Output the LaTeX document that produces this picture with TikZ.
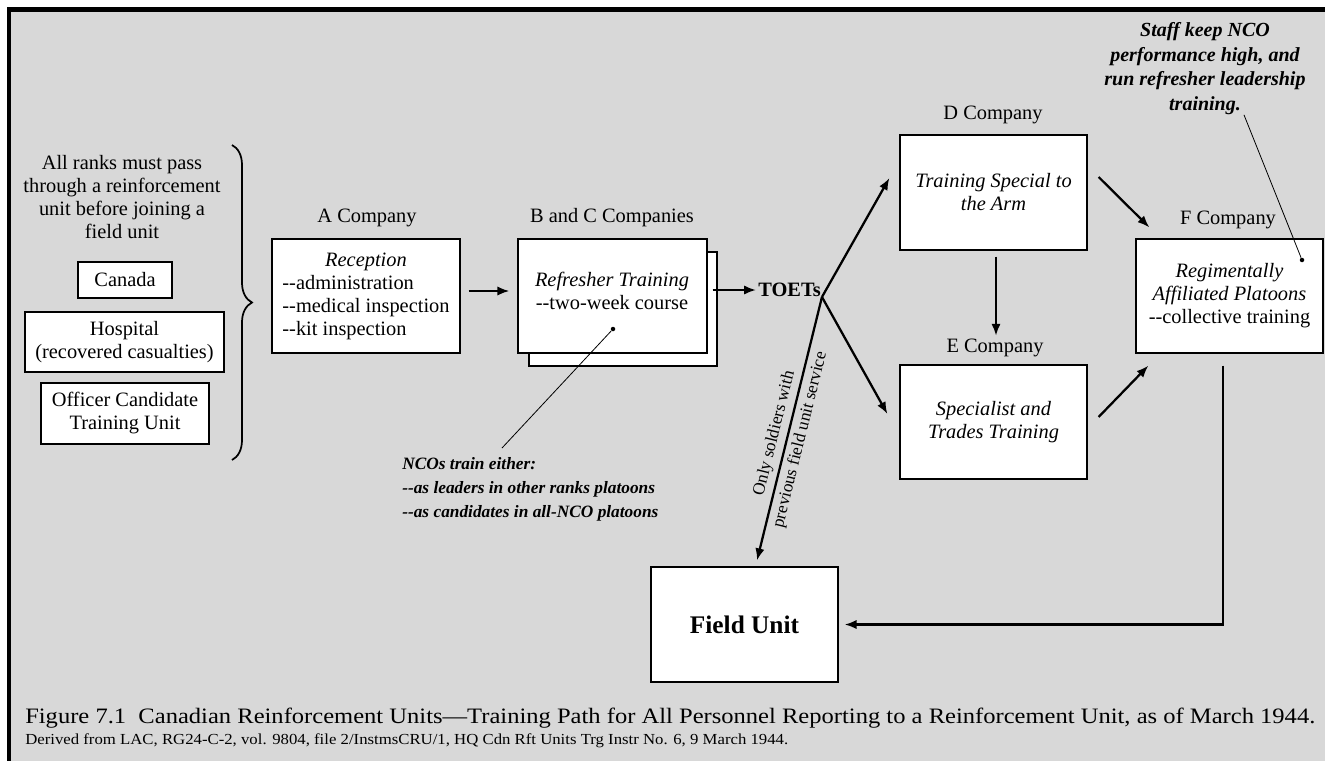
\documentclass[tikz,border=0pt]{standalone}
\usepackage{fontspec}
\setmainfont{Liberation Serif}
\usetikzlibrary{arrows.meta,calc,decorations.pathreplacing}
\definecolor{bggrey}{RGB}{216,216,216}
\def\PX{*0.75pt}
\tikzset{
  base/.style={font=\fontsize{15.3}{17.25}\selectfont},
  box/.style={draw, fill=white, line width=0.9pt, inner sep=0pt, align=center, base},
  lbl/.style={base, inner sep=0pt, align=center},
  arr/.style={line width=1.7pt, -{Latex[length=9pt,width=7pt]}},
  pointer/.style={line width=0.6pt},
  dotmark/.style={circle, fill=black, inner sep=0pt, minimum size=4.5\PX},
  note/.style={font=\fontsize{13}{18}\selectfont\bfseries\itshape, inner sep=0pt},
}
\begin{document}
\begin{tikzpicture}[x=0.75pt,y=-0.75pt]
\useasboundingbox (0,0) rectangle (1325,761);
\fill[white] (0,0) rectangle (1325,761);
\fill[bggrey] (7,7) rectangle (1325,761);
\fill[black] (7,7) rectangle (1325,12);
\fill[black] (7,7) rectangle (11,761);

% left column
\node[lbl] (intro) at (122,197) {All ranks must pass\\through a reinforcement\\unit before joining a\\field unit};
\node[box, minimum width=94\PX, minimum height=36\PX] (canada) at (125,280) {Canada};
\node[box, minimum width=199\PX, minimum height=60\PX] (hosp) at (124.5,342) {Hospital\\(recovered casualties)};
\node[box, minimum width=168\PX, minimum height=61\PX] (octu) at (125,413.5) {Officer Candidate\\Training Unit};
\coordinate (bt) at (232,145);
\coordinate (bb) at (232,460);
\draw[line width=1.3pt, decorate, decoration={brace, amplitude=15pt}] (bt) -- (bb);

% A company
\node[lbl] (Alab) at (367,218) {A Company};
\node[box, minimum width=188\PX, minimum height=114\PX] (A) at (366,296)
  {\begin{tabular}{@{}l@{}}\multicolumn{1}{@{}c@{}}{\textit{Reception}}\\-{}-administration\\-{}-medical inspection\\-{}-kit inspection\end{tabular}};

% B and C companies
\node[lbl] (Blab) at (612,218) {B and C Companies};
\node[box, minimum width=188\PX, minimum height=114\PX] (Bback) at (623,309) {};
\node[box, minimum width=189\PX, minimum height=114\PX] (B) at (612.5,296) {};
\node[lbl] (Btext) at (612,291) {\textit{Refresher Training}\\-{}-two-week course};
\node[dotmark] (bdot) at (613,329) {};

% TOETs
\node[lbl, font=\fontsize{15.3}{17.25}\selectfont\bfseries] (toets) at (789.5,290) {TOETs};
\coordinate (junc) at ($(toets.east)+(1,7)$);

% D, E, F
\node[lbl] (Dlab) at (993,115) {D Company};
\node[box, minimum width=187\PX, minimum height=115\PX] (D) at (993.5,192.5) {\textit{Training Special to}\\\textit{the Arm}};
\node[lbl] (Elab) at (995,348) {E Company};
\node[box, minimum width=187\PX, minimum height=114\PX] (E) at (993.5,422) {\textit{Specialist and}\\\textit{Trades Training}};
\node[lbl] (Flab) at (1228,220) {F Company};
\node[box, minimum width=187\PX, minimum height=114\PX] (F) at (1229.5,296) {\textit{Regimentally}\\\textit{Affiliated Platoons}\\-{}-collective training};
\node[dotmark] (fdot) at (1302,260) {};

% Field unit
\node[box, minimum width=187\PX, minimum height=115\PX, font=\fontsize{19}{22}\selectfont\bfseries] (FU) at (744.5,624.5) {Field Unit};

% notes
\node[note, anchor=north west, align=left] (nco) at (402,457) {NCOs train either:\\-{}-as leaders in other ranks platoons\\-{}-as candidates in all-NCO platoons};
\node[note, anchor=north, align=center, font=\fontsize{15}{18.5}\selectfont\bfseries\itshape] (staff) at (1205,22) {Staff keep NCO\\performance high, and\\run refresher leadership\\training.};

% connectors
\draw[arr] ($(A.east)+(8,-5)$) -- ($(B.west)+(-8,-5)$);
\draw[arr, shorten >=1.5pt] ($(B.east)+(5,-6)$) -- (toets.west);
\draw[arr] (junc) -- ($(D.west)+(-10,-14.5)$);
\draw[arr] (junc) -- ($(E.west)+(-12,-8)$);
\coordinate (fuin) at ($(FU.north)+(12.5,-6)$);
\draw[arr] (junc) -- (fuin);
\node[font=\fontsize{13}{14}\selectfont, rotate=76, inner sep=0pt, align=center] (only) at ($(junc)!0.53!(fuin)$) {Only soldiers with\\[6pt]previous field unit service};
\draw[arr, shorten <=6\PX, shorten >=3\PX] ($(D.south)+(2.5,0)$) -- ($(Elab.north)+(1,0)$);
\draw[arr] ($(D.east)+(11,-15.5)$) -- ($(F.north west)+(14,-11)$);
\draw[arr] ($(E.east)+(11,-5)$) -- ($(F.south west)+(13,12)$);
\draw[line width=1.7pt, -{Latex[length=9pt,width=7pt]}, shorten >=6\PX] ($(F.south)+(-6.5,12)$) |- (FU.east);
\draw[pointer] (bdot) -- ($(nco.north west)+(100,-9)$);
\draw[pointer] (fdot) -- ($(staff.south)+(39,0)$);

% caption
\node[anchor=west, inner sep=0pt] (cap1) at (25,718) {\resizebox{967.5pt}{\height}{\fontsize{16.5}{18}\selectfont Figure 7.1\ \ Canadian Reinforcement Units---Training Path for All Personnel Reporting to a Reinforcement Unit, as of March 1944.}};
\node[anchor=west, inner sep=0pt] (cap2) at (25,741) {\resizebox{572.25pt}{\height}{\fontsize{11.5}{13}\selectfont Derived from LAC, RG24-C-2, vol. 9804, file 2/InstmsCRU/1, HQ Cdn Rft Units Trg Instr No. 6, 9 March 1944.}};
\end{tikzpicture}
\end{document}
